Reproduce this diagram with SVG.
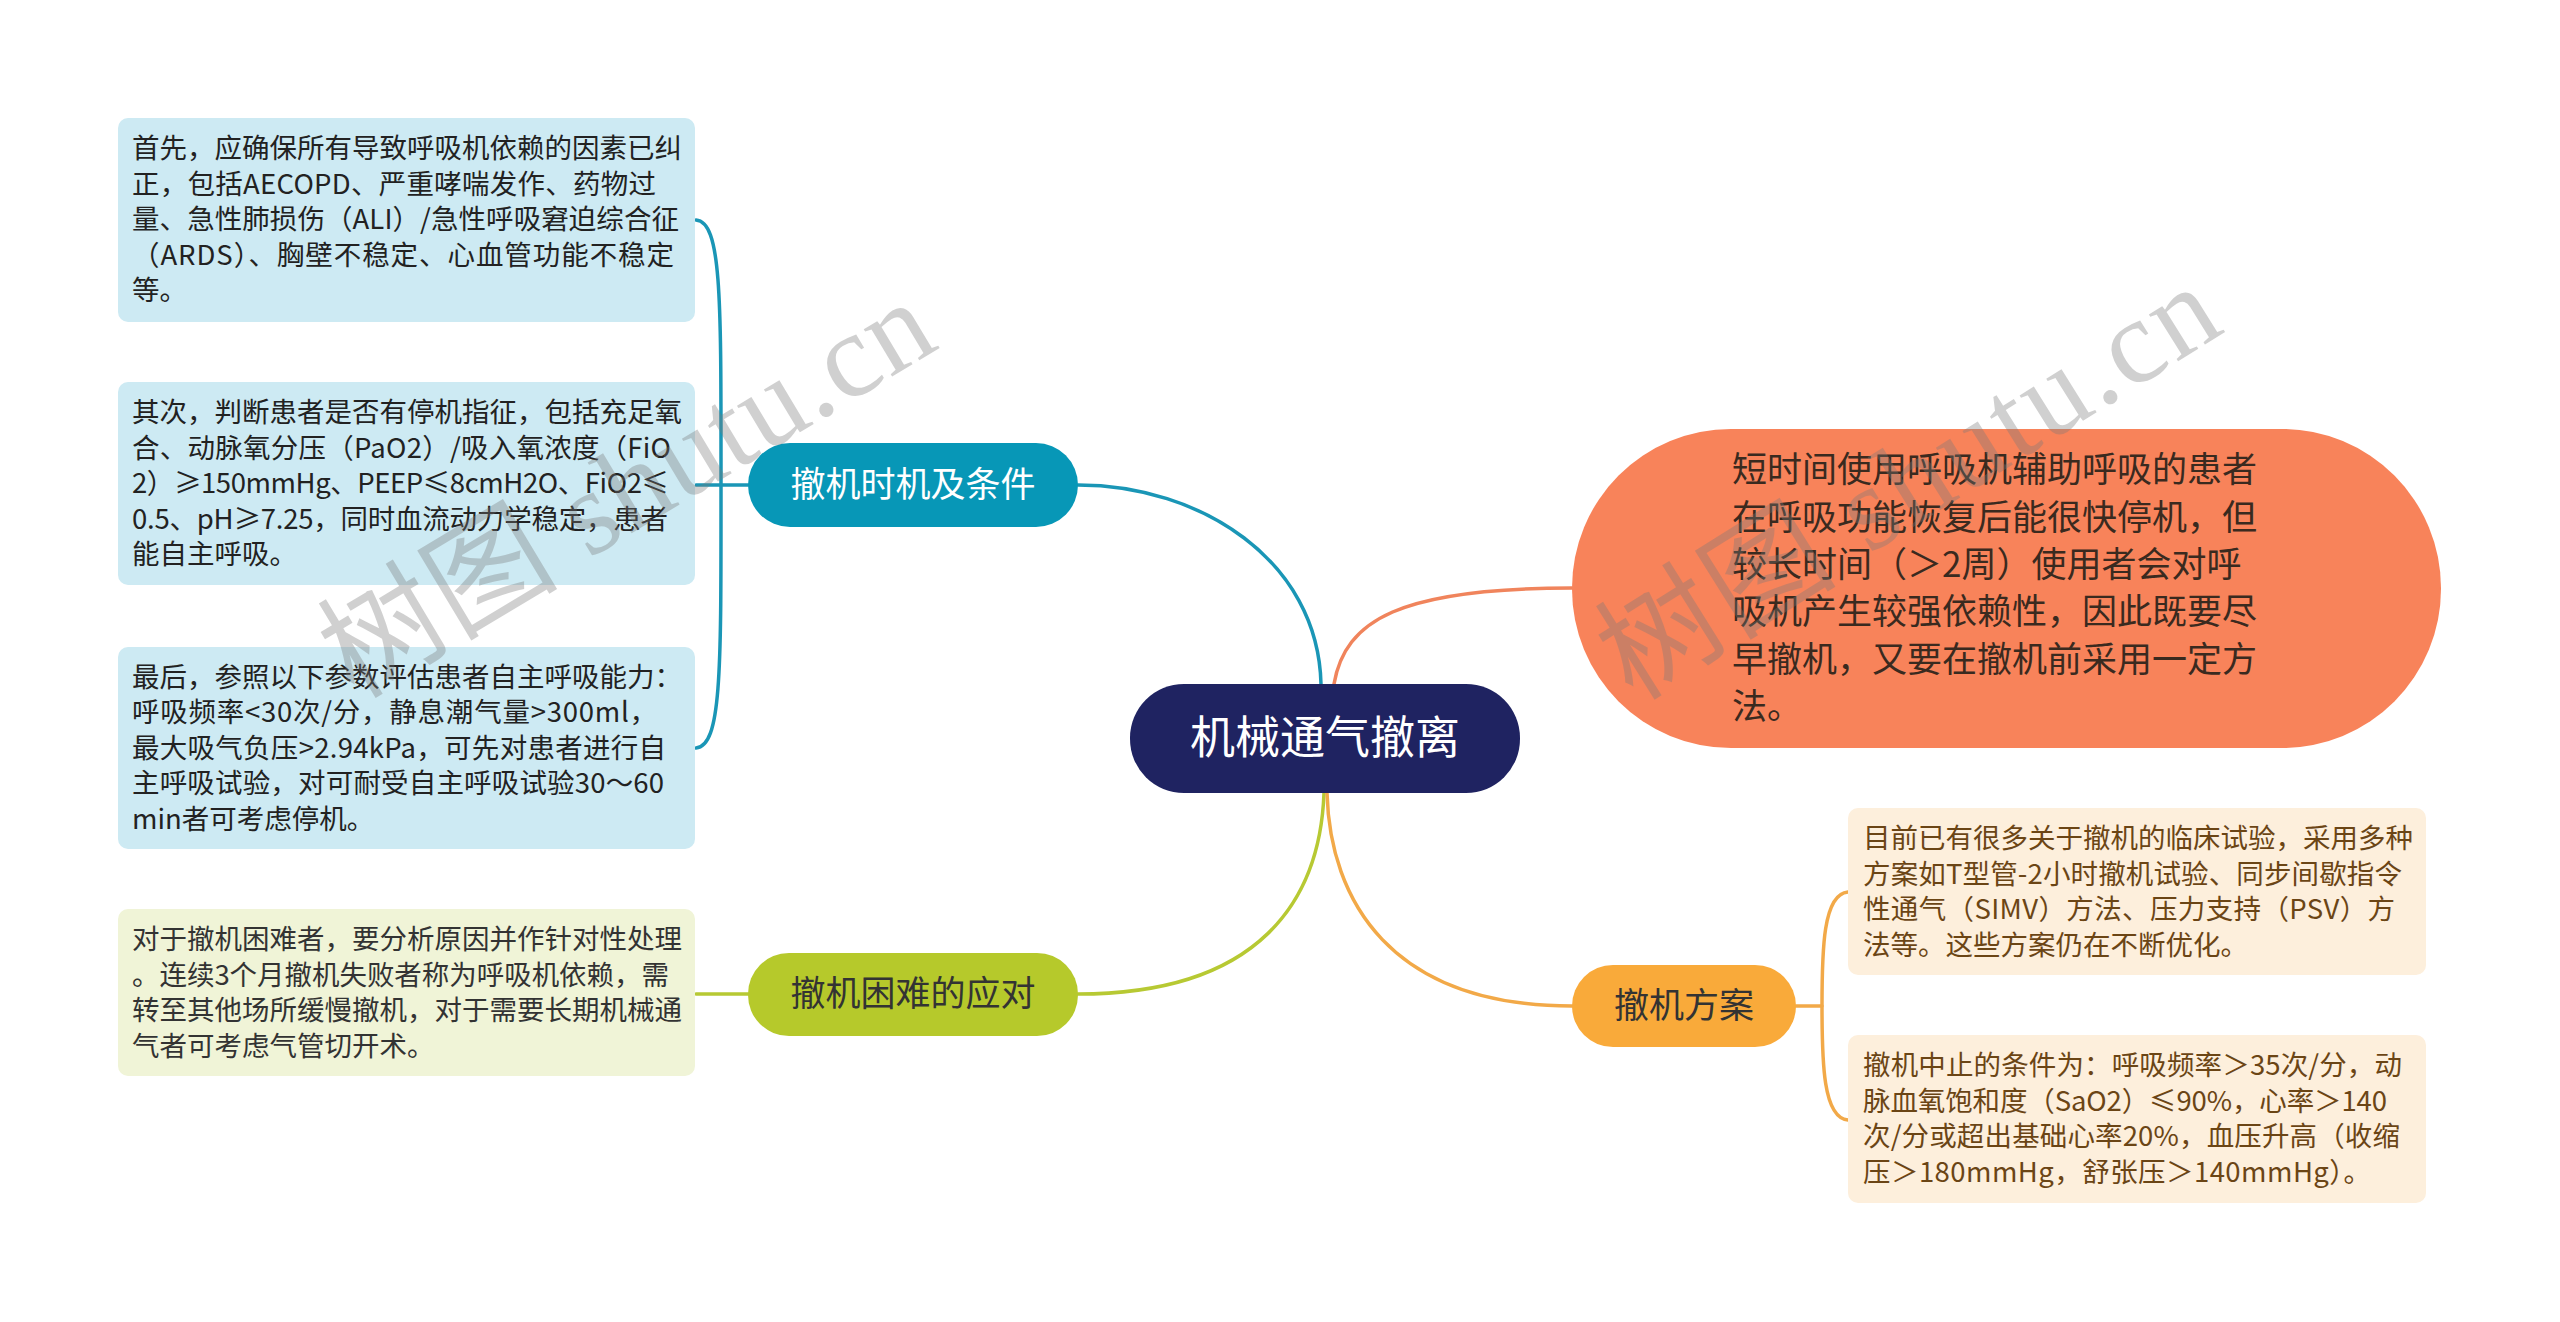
<svg xmlns="http://www.w3.org/2000/svg" width="2560" height="1322" viewBox="0 0 2560 1322">
<style>
.t{font-family:"Noto Sans CJK SC","Noto Sans",sans-serif;}
.leaf{font-size:27.5px;}
.lb{fill:#222222;}
.lg{fill:#333333;}
.lo{fill:#6b4515;}
.br{font-size:35px;text-anchor:middle;}
.con{fill:none;stroke-width:3.5;stroke-linecap:round;}
.wm{font-family:"Liberation Serif","Noto Sans CJK SC",serif;font-size:120px;fill:#7a7a7a;opacity:0.35;}
</style>
<rect width="2560" height="1322" fill="#ffffff"/>
<g id="connectors">
<path class="con" stroke="#1a96b6" d="M1078 485 C1200 485 1318 560 1321 684"/>
<path class="con" stroke="#f0845c" d="M1334 684 C1345 620 1400 588 1572 588"/>
<path class="con" stroke="#b7c933" d="M1324 793 C1320 900 1260 994 1078 994"/>
<path class="con" stroke="#f2a948" d="M1327 793 C1330 900 1390 1006 1572 1006"/>
<path class="con" stroke="#1a96b6" d="M748 485 L696 485"/>
<path class="con" stroke="#1a96b6" d="M696 220 C722 222 721 300 721 484 C721 668 722 746 696 748"/>
<path class="con" stroke="#b7c933" d="M748 994 L696 994"/>
<path class="con" stroke="#f2a948" d="M1796 1006 L1822 1006"/>
<path class="con" stroke="#f2a948" d="M1848 892 C1823 894 1822 950 1822 1006 C1822 1062 1823 1118 1848 1120"/>
</g>
<g id="leaf1">
<rect x="118" y="118" width="577" height="204" rx="10" fill="#cdeaf3"/>
<text class="t leaf lb" x="132" y="158">首先，应确保所有导致呼吸机依赖的因素已纠</text>
<text class="t leaf lb" x="132" y="194" textLength="524" lengthAdjust="spacing">正，包括AECOPD、严重哮喘发作、药物过</text>
<text class="t leaf lb" x="132" y="229" textLength="547" lengthAdjust="spacing">量、急性肺损伤（ALI）/急性呼吸窘迫综合征</text>
<text class="t leaf lb" x="132" y="265" textLength="542" lengthAdjust="spacing">（ARDS）、胸壁不稳定、心血管功能不稳定</text>
<text class="t leaf lb" x="132" y="300">等。</text>
</g>
<g id="leaf2">
<rect x="118" y="382" width="577" height="203" rx="10" fill="#cdeaf3"/>
<text class="t leaf lb" x="132" y="422">其次，判断患者是否有停机指征，包括充足氧</text>
<text class="t leaf lb" x="132" y="457.5" textLength="539" lengthAdjust="spacing">合、动脉氧分压（PaO2）/吸入氧浓度（FiO</text>
<text class="t leaf lb" x="132" y="493" textLength="537" lengthAdjust="spacing">2）≥150mmHg、PEEP≤8cmH2O、FiO2≤</text>
<text class="t leaf lb" x="132" y="528.5" textLength="536" lengthAdjust="spacing">0.5、pH≥7.25，同时血流动力学稳定，患者</text>
<text class="t leaf lb" x="132" y="564">能自主呼吸。</text>
</g>
<g id="leaf3">
<rect x="118" y="647" width="577" height="202" rx="10" fill="#cdeaf3"/>
<text class="t leaf lb" x="132" y="686.5">最后，参照以下参数评估患者自主呼吸能力：</text>
<text class="t leaf lb" x="132" y="722" textLength="525" lengthAdjust="spacing">呼吸频率&lt;30次/分，静息潮气量&gt;300ml，</text>
<text class="t leaf lb" x="132" y="757.5" textLength="534" lengthAdjust="spacing">最大吸气负压&gt;2.94kPa，可先对患者进行自</text>
<text class="t leaf lb" x="132" y="793" textLength="532" lengthAdjust="spacing">主呼吸试验，对可耐受自主呼吸试验30～60</text>
<text class="t leaf lb" x="132" y="828.5">min者可考虑停机。</text>
</g>
<g id="leaf4">
<rect x="118" y="909" width="577" height="167" rx="10" fill="#f0f4d7"/>
<text class="t leaf lg" x="132" y="949">对于撤机困难者，要分析原因并作针对性处理</text>
<text class="t leaf lg" x="132" y="984.5" textLength="537" lengthAdjust="spacing">。连续3个月撤机失败者称为呼吸机依赖，需</text>
<text class="t leaf lg" x="132" y="1020">转至其他场所缓慢撤机，对于需要长期机械通</text>
<text class="t leaf lg" x="132" y="1055.5">气者可考虑气管切开术。</text>
</g>
<g id="leaf5">
<rect x="1848" y="808" width="578" height="167" rx="10" fill="#fdefdc"/>
<text class="t leaf lo" x="1863" y="848">目前已有很多关于撤机的临床试验，采用多种</text>
<text class="t leaf lo" x="1863" y="883.5" textLength="539" lengthAdjust="spacing">方案如T型管-2小时撤机试验、同步间歇指令</text>
<text class="t leaf lo" x="1863" y="919" textLength="532" lengthAdjust="spacing">性通气（SIMV）方法、压力支持（PSV）方</text>
<text class="t leaf lo" x="1863" y="954.5">法等。这些方案仍在不断优化。</text>
</g>
<g id="leaf6">
<rect x="1848" y="1035" width="578" height="168" rx="10" fill="#fdefdc"/>
<text class="t leaf lo" x="1863" y="1075" textLength="539" lengthAdjust="spacing">撤机中止的条件为：呼吸频率＞35次/分，动</text>
<text class="t leaf lo" x="1863" y="1111" textLength="524" lengthAdjust="spacing">脉血氧饱和度（SaO2）≤90%，心率＞140</text>
<text class="t leaf lo" x="1863" y="1146" textLength="537" lengthAdjust="spacing">次/分或超出基础心率20%，血压升高（收缩</text>
<text class="t leaf lo" x="1863" y="1182" textLength="508" lengthAdjust="spacing">压＞180mmHg，舒张压＞140mmHg）。</text>
</g>
<g id="center">
<rect x="1130" y="684" width="390" height="109" rx="54" fill="#1f2361"/>
<text class="t" x="1325" y="754" font-size="45" fill="#ffffff" text-anchor="middle">机械通气撤离</text>
</g>
<g id="branch1">
<rect x="748" y="443" width="330" height="84" rx="42" fill="#0797b7"/>
<text class="t br" x="913" y="497" fill="#ffffff">撤机时机及条件</text>
</g>
<g id="branch2">
<rect x="748" y="953" width="330" height="83" rx="41" fill="#b6c92b"/>
<text class="t br" x="913" y="1006" fill="#333333">撤机困难的应对</text>
</g>
<g id="branch3">
<rect x="1572" y="965" width="224" height="82" rx="41" fill="#f9aa3a"/>
<text class="t br" x="1684" y="1018" fill="#333333">撤机方案</text>
</g>
<g id="note">
<rect x="1572" y="429" width="869" height="319" rx="159" fill="#f8835a"/>
<text class="t" font-size="35" fill="#3a2a1f"><tspan x="1732" y="482">短时间使用呼吸机辅助呼吸的患者</tspan><tspan x="1732" y="530">在呼吸功能恢复后能很快停机，但</tspan><tspan x="1732" y="577">较长时间（＞2周）使用者会对呼</tspan><tspan x="1732" y="624">吸机产生较强依赖性，因此既要尽</tspan><tspan x="1732" y="672">早撤机，又要在撤机前采用一定方</tspan><tspan x="1732" y="719">法。</tspan></text>
</g>
<g id="watermarks">
<text class="wm" x="354" y="700" transform="rotate(-31 354 700)" textLength="685" lengthAdjust="spacing">树图 shutu.cn</text>
<text class="wm" x="1633" y="702" transform="rotate(-32 1633 702)" textLength="700" lengthAdjust="spacing">树图 shutu.cn</text>
</g>
</svg>
